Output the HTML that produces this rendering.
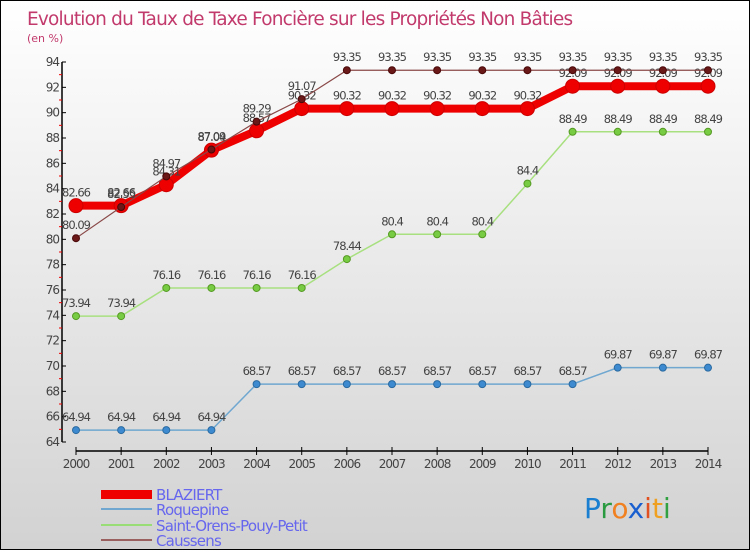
<!DOCTYPE html>
<html><head><meta charset="utf-8"><style>
body{margin:0}
#c{width:750px;height:550px;position:relative;box-sizing:border-box;border:1px solid #000;background:linear-gradient(#ffffff,#d2d2d2);font-family:"DejaVu Sans","Liberation Sans",sans-serif;overflow:hidden}
text{font-family:"DejaVu Sans","Liberation Sans",sans-serif}
</style></head><body>
<div id="c">
<svg id="s" width="750" height="550">
<text x="26" y="24" font-size="18.5" fill="#c23a6c" letter-spacing="-0.8">Evolution du Taux de Taxe Foncière sur les Propriétés Non Bâties</text>
<text x="26" y="41" font-size="11" fill="#c23a6c">(en %)</text>
<g id="axes"></g><g id="series"></g>
<g>
<rect x="100" y="489" width="51" height="9" fill="#ee0000"/>
<text x="155" y="499" font-size="15" fill="#6666ee" letter-spacing="-0.8">BLAZIERT</text>
<rect x="100" y="507" width="51" height="2" fill="#6fa7d0"/>
<text x="155" y="514" font-size="15" fill="#6666ee" letter-spacing="-0.8">Roquepine</text>
<rect x="100" y="523" width="51" height="2" fill="#99dd77"/>
<text x="155" y="530" font-size="15" fill="#6666ee" letter-spacing="-0.8">Saint-Orens-Pouy-Petit</text>
<rect x="100" y="538" width="51" height="2" fill="#9a6060"/>
<text x="155" y="545" font-size="15" fill="#6666ee" letter-spacing="-0.8">Caussens</text>
</g>
<text x="583" y="517" font-size="28"><tspan fill="#1a7fd0">P</tspan><tspan fill="#2a9a40">r</tspan><tspan fill="#f08020">o</tspan><tspan fill="#1a5fd0">x</tspan><tspan fill="#e05020">i</tspan><tspan fill="#f0a020">t</tspan><tspan fill="#30a040">i</tspan></text>
</svg></div>
<script>
const years=[2000,2001,2002,2003,2004,2005,2006,2007,2008,2009,2010,2011,2012,2013,2014];
const yTicks=[64,66,68,70,72,74,76,78,80,82,84,86,88,90,92,94];
const blaziert=[82.66,82.66,84.31,87.04,88.57,90.32,90.32,90.32,90.32,90.32,90.32,92.09,92.09,92.09,92.09];
const roquepine=[64.94,64.94,64.94,64.94,68.57,68.57,68.57,68.57,68.57,68.57,68.57,68.57,69.87,69.87,69.87];
const saintOrens=[73.94,73.94,76.16,76.16,76.16,76.16,78.44,80.4,80.4,80.4,84.4,88.49,88.49,88.49,88.49];
const caussens=[80.09,82.55,84.97,87.09,89.29,91.07,93.35,93.35,93.35,93.35,93.35,93.35,93.35,93.35,93.35];
const NS="http://www.w3.org/2000/svg";
const X=i=>75+i*(707-75)/14;
const Y=v=>441-(v-64)*(441-61)/30;
function mk(t,a,p){const e=document.createElementNS(NS,t);for(const k in a)e.setAttribute(k,a[k]);p.appendChild(e);return e;}
const ax=document.getElementById('axes');
mk('line',{x1:61,y1:61,x2:61,y2:441,stroke:'#000','stroke-width':1.5},ax);
mk('line',{x1:75,y1:450,x2:707,y2:450,stroke:'#000','stroke-width':1.5},ax);
yTicks.forEach((v,i)=>{
 const y=Y(v);
 const tk=mk('line',{x1:61,y1:y,x2:65,y2:y,stroke:'#000'},ax);
 
 
 if(i<yTicks.length-1){const m=mk('line',{x1:58,y1:Y(v+1),x2:61,y2:Y(v+1),stroke:'#e00'},ax);
 }
 const t=mk('text',{x:58,y:y+4,'font-size':12,fill:'#444','text-anchor':'end','letter-spacing':'-1'},ax);
 t.textContent=v;
 
 
});
years.forEach((yr,i)=>{
 const x=X(i);
 const tk=mk('line',{x1:x,y1:446,x2:x,y2:454,stroke:'#000'},ax);
 
 
 const t=mk('text',{x:x,y:467,'font-size':12,fill:'#444','text-anchor':'middle','letter-spacing':'-1'},ax);
 t.textContent=yr;
 
 
});
const sg=document.getElementById('series');
function series(vals,name,col,w,r,dot,stroke){
 const g=mk('g',{},sg);
 
 
 const pl=mk('polyline',{points:vals.map((v,i)=>X(i)+','+Y(v)).join(' '),fill:'none',stroke:col,'stroke-width':w},g);
 
 
 vals.forEach((v,i)=>{
  const c=mk('circle',{cx:X(i),cy:Y(v),r:r,fill:dot,stroke:stroke,'stroke-width':1},g);
  
  
  const t=mk('text',{x:X(i),y:Y(v)-9,'font-size':11.5,fill:'#444','text-anchor':'middle','letter-spacing':'-1'},g);
  t.textContent=v;
  
  
 });
}
series(roquepine,'roquepine','#6fa7d0',1.5,3.5,'#3d8ad0','#2a6aa0');
series(saintOrens,'saint-orens','#a8e080',1.5,3.5,'#77cc44','#559922');
series(blaziert,'blaziert','#ee0000',8,7,'#ee0000','#cc0000');
series(caussens,'caussens','#8a4848',1.2,3.5,'#6a1818','#4a0808');
</script>
</body></html>
